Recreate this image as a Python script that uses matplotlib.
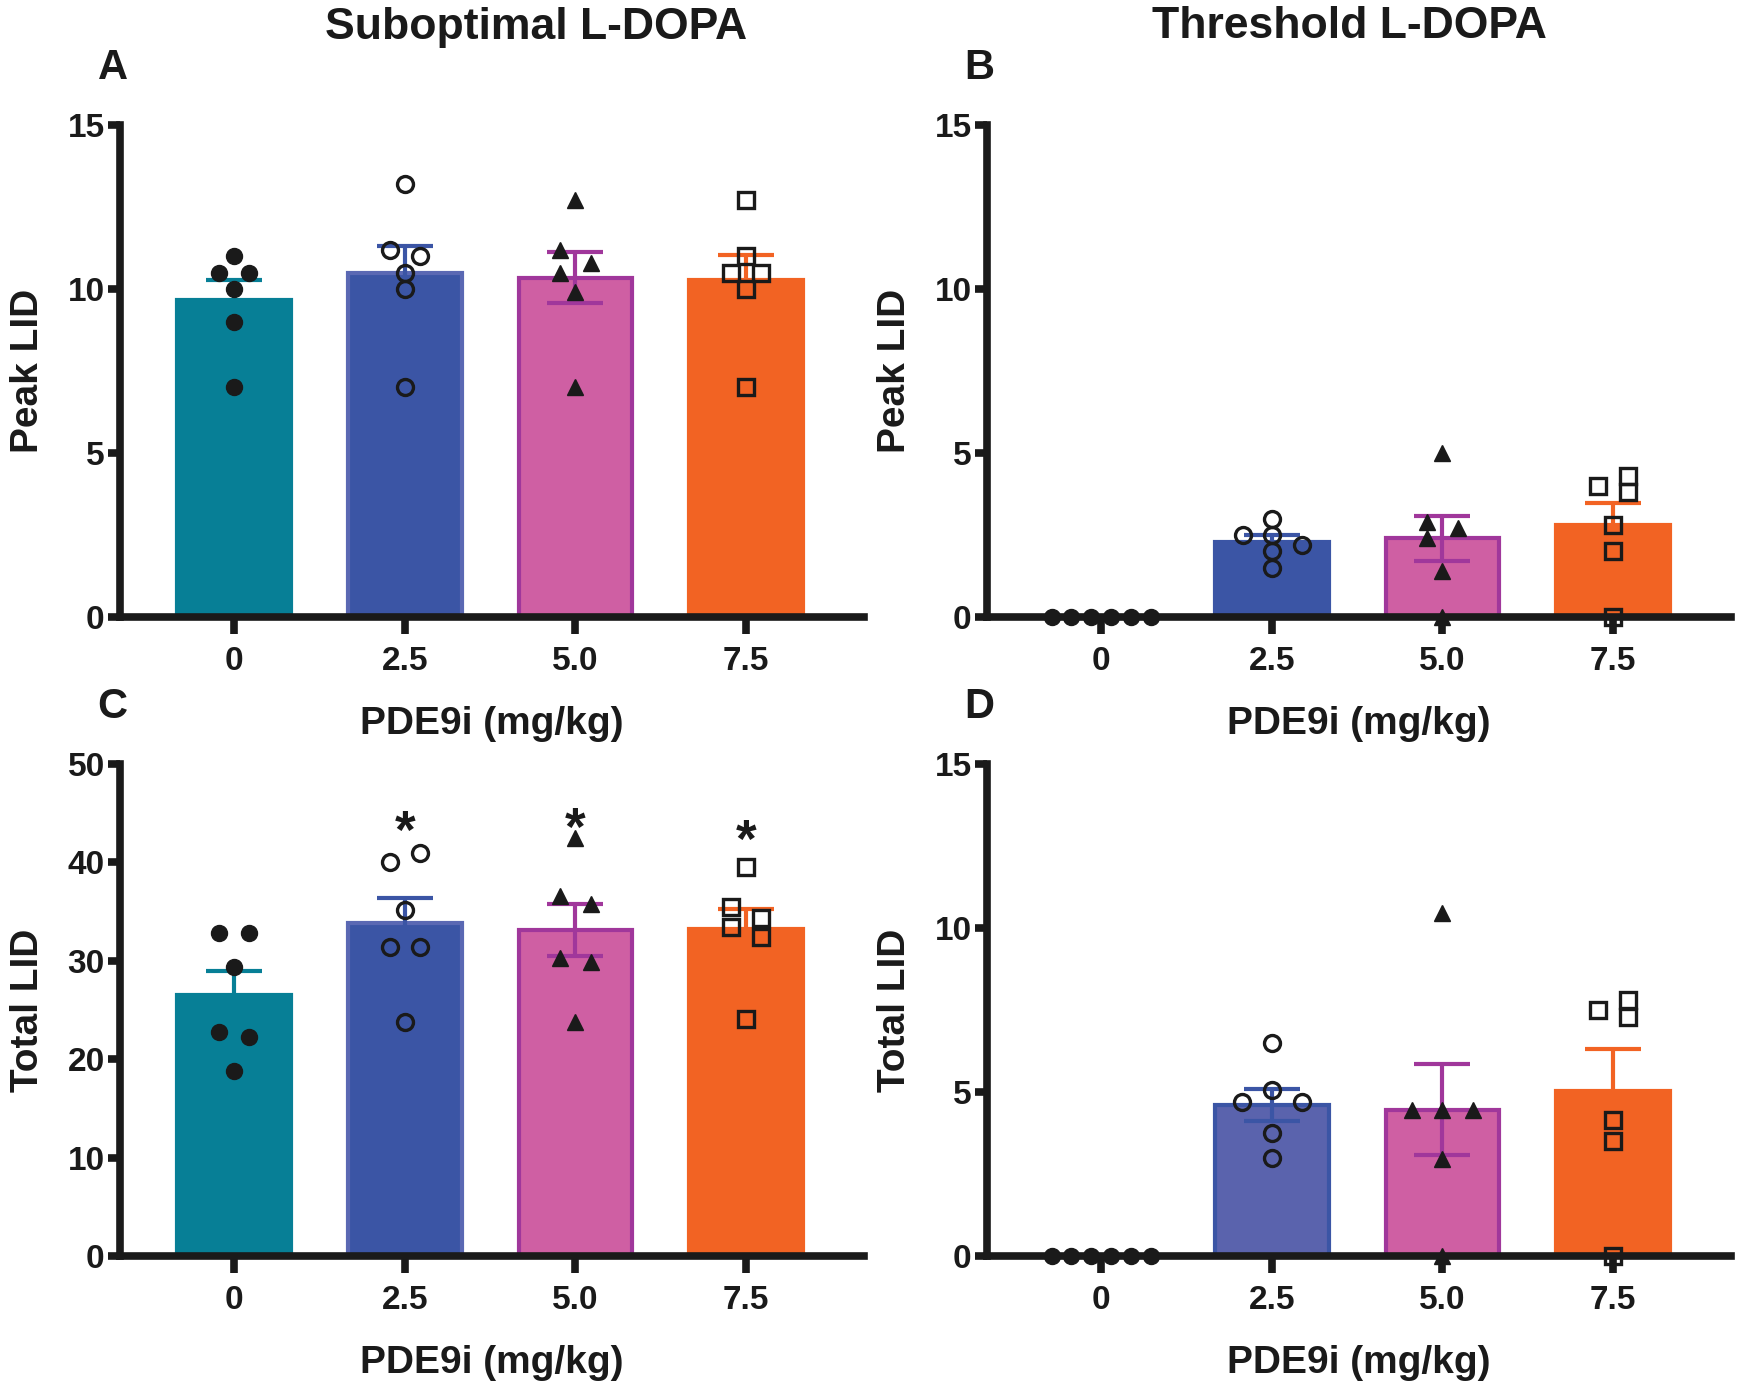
import numpy as np
import matplotlib
matplotlib.use("Agg")
import matplotlib.pyplot as plt

plt.rcParams["font.family"] = ["Liberation Sans", "DejaVu Sans"]
plt.rcParams["font.weight"] = "bold"

DOSES = ["0", "2.5", "5.0", "7.5"]

# individual animals (one list per dose group)
peak_sub = [[11, 10.5, 10.5, 10, 9, 7],
            [13.2, 11.2, 11, 10.5, 10, 7],
            [12.7, 11.2, 10.8, 10.5, 9.9, 7],
            [12.7, 11, 10.5, 10.5, 10, 7]]
peak_thr = [[0, 0, 0, 0, 0, 0],
            [3, 2.5, 2.5, 2.2, 2, 1.5],
            [5, 2.9, 2.7, 2.4, 1.4, 0],
            [4.3, 4, 3.8, 2.8, 2, 0]]
total_sub = [[32.8, 32.8, 29.4, 22.8, 22.3, 18.8],
             [41, 40, 35.2, 31.4, 31.4, 23.8],
             [42.5, 36.6, 35.8, 30.3, 29.9, 23.8],
             [39.5, 35.5, 34.4, 33.4, 32.4, 24.1]]
total_thr = [[0, 0, 0, 0, 0, 0],
             [6.5, 5.05, 4.7, 4.7, 3.75, 3],
             [10.45, 4.45, 4.45, 4.45, 2.95, 0],
             [7.8, 7.5, 7.3, 4.15, 3.5, 0]]

# significance marks (panel C) and their height
sig_c = ["", "*", "*", "*"]
sig_c_y = [0, 42.9, 43.2, 42.0]

# horizontal scatter spread of the dots (category units), layout only
s = 0.088
r = 0.116
off_row = [-2.5 * r, -1.5 * r, -0.5 * r, 0.5 * r, 1.5 * r, 2.5 * r]
offs_a = [[0, -s, s, 0, 0, 0], [0, -s, s, 0, 0, 0],
          [0, -s, s, -s, 0, 0], [0, 0, -s, s, 0, 0]]
offs_b = [off_row, [0, -1.9 * s, 0, 2 * s, 0, 0],
          [0, -s, s, -s, 0, 0], [s, -s, s, 0, 0, 0]]
offs_c = [[-s, s, 0, -s, s, 0], [s, -s, 0, -s, s, 0],
          [0, -s, s, -s, s, 0], [0, -s, s, -s, s, 0]]
offs_d = [off_row, [0, 0, -2 * s, 2 * s, 0, 0],
          [0, -2 * s, 0, 2 * s, 0, 0], [s, -s, s, 0, 0, 0]]

TEAL = "#077f96"
BLUE = "#3b55a5"
BLUE_LT = "#5a63ad"
PINK = "#cf5fa3"
PURPLE = "#a0379b"
ORANGE = "#f26323"
INK = "#1a1a1a"

markers = [dict(marker="o", mfc=INK, mec=INK, ms=11.5, mew=1),
           dict(marker="o", mfc="none", mec=INK, ms=11.5, mew=2.4),
           dict(marker="^", mfc=INK, mec=INK, ms=11, mew=1),
           dict(marker="s", mfc="none", mec=INK, ms=11, mew=2.4)]

W, H = 1739, 1394
fig = plt.figure(figsize=(W / 100, H / 100), dpi=100)


def panel(rect, groups, offsets, ymax, ystep, ylabel, letter, blue_fill, blue_edge):
    ax = fig.add_axes(rect)
    fills = [TEAL, blue_fill, PINK, ORANGE]
    edges = [TEAL, blue_edge, PURPLE, ORANGE]
    errc = [TEAL, BLUE, PURPLE, ORANGE]
    x = np.arange(len(groups))
    means = [np.mean(g) for g in groups]
    sems = [np.std(g, ddof=1) / np.sqrt(len(g)) for g in groups]
    ax.bar(x, means, width=0.665, color=fills, edgecolor=edges, linewidth=3, zorder=1)
    for i in x:
        ax.errorbar(i, means[i], yerr=sems[i], color=errc[i], capsize=20,
                    capthick=3, elinewidth=3, zorder=2)
        ax.plot(i + np.array(offsets[i]), groups[i], linestyle="none",
                zorder=3, clip_on=False, **markers[i])
    ax.set_xlim(-0.668, 3.69)
    ax.set_ylim(0, ymax)
    ax.set_yticks(np.arange(0, ymax + 0.1, ystep))
    ax.set_xticks(x)
    ax.set_xticklabels(DOSES)
    for side in ["top", "right"]:
        ax.spines[side].set_visible(False)
    for side in ["left", "bottom"]:
        ax.spines[side].set_linewidth(5.5)
        ax.spines[side].set_color(INK)
        ax.spines[side].set_capstyle("projecting")
    ax.tick_params(axis="both", width=5.5, color=INK, labelsize=24, labelcolor=INK)
    ax.tick_params(axis="x", length=12, pad=9)
    ax.tick_params(axis="y", length=9, pad=2)
    ax.set_ylabel(ylabel, fontsize=28, fontweight="bold", color=INK)
    ax.yaxis.set_label_coords(-0.1, 0.5)
    ax.set_xlabel("PDE9i (mg/kg)", fontsize=28, fontweight="bold", color=INK)
    ax.xaxis.set_label_coords(0.5, -0.18)
    ax.text(-0.01, 1.115, letter, transform=ax.transAxes, fontsize=30,
            fontweight="bold", ha="center", va="center", color=INK)
    return ax


def rect(left_px, bottom_px):
    return [left_px / W, 1 - bottom_px / H, 744 / W, 492 / H]


ax_a = panel(rect(120, 617), peak_sub, offs_a, 15, 5, "Peak LID", "A", BLUE, "#5a68b3")
ax_b = panel(rect(987, 617), peak_thr, offs_b, 15, 5, "Peak LID", "B", BLUE, BLUE)
ax_c = panel(rect(120, 1256), total_sub, offs_c, 50, 10, "Total LID", "C", BLUE, "#5a68b3")
ax_d = panel(rect(987, 1256), total_thr, offs_d, 15, 5, "Total LID", "D", BLUE_LT, BLUE)

for i, mark in enumerate(sig_c):
    if mark:
        ax_c.text(i, sig_c_y[i], mark, ha="center", va="center", fontsize=38,
                  fontweight="bold", color=INK)

fig.text(536 / W, 1 - 27 / H, "Suboptimal L-DOPA", ha="center", va="center",
         fontsize=32, fontweight="bold", color=INK)
fig.text(1349 / W, 1 - 27 / H, "Threshold L-DOPA", ha="center", va="center",
         fontsize=32, fontweight="bold", color=INK)

fig.savefig("out.png", dpi=100)
